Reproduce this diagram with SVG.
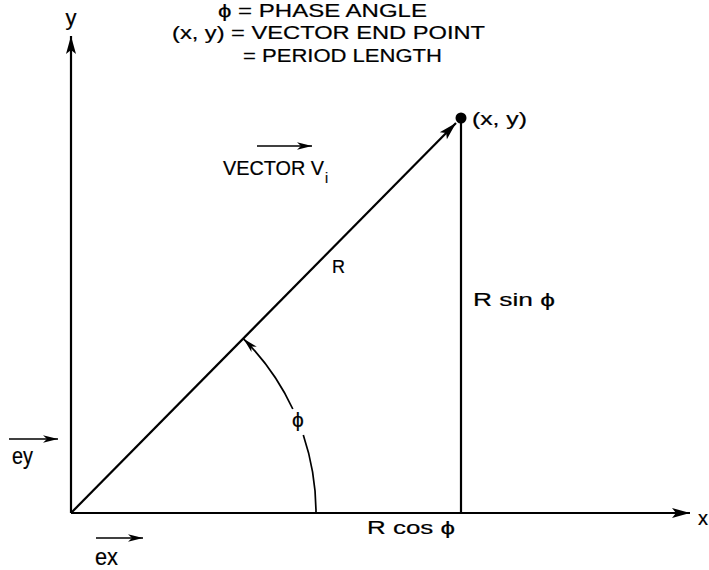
<svg xmlns="http://www.w3.org/2000/svg" width="709" height="570" viewBox="0 0 709 570">
<style>
.t{font-family:"Liberation Sans","DejaVu Sans",sans-serif;fill:#000;stroke:#000;stroke-width:0.2}
.ln{fill:none;stroke:#000;stroke-width:2.2;stroke-linecap:butt}
.thin{fill:none;stroke:#000;stroke-width:1.7}
</style>
<defs>
<marker id="big" markerUnits="userSpaceOnUse" viewBox="-20 -6 22 12" markerWidth="22" markerHeight="12" refX="0" refY="0" orient="auto" overflow="visible">
<path d="M0,0 L-18,-5 L-14,0 L-18,5 Z" fill="#000"/>
</marker>
<marker id="small" markerUnits="userSpaceOnUse" viewBox="-16 -5 18 10" markerWidth="18" markerHeight="10" refX="0" refY="0" orient="auto" overflow="visible">
<path d="M0,0 L-15,-3.8 L-11,0 L-15,3.8 Z" fill="#000"/>
</marker>
</defs>
<rect width="709" height="570" fill="#fff"/>
<g id="connectors">
<path id="y-axis" class="ln" d="M71,513 L71,36" marker-end="url(#big)"/>
<path id="x-axis" class="ln" d="M71,513 L690,513" marker-end="url(#big)"/>
<path id="vector" class="ln" d="M71,513 L456,123" marker-end="url(#big)"/>
<path id="rsin" class="ln" d="M461,118 L461,513"/>
<path id="arc-lower" class="thin" d="M316,513 A245,245 0 0 0 303.3,435"/>
<path id="arc-upper" class="thin" d="M292.8,409 A245,245 0 0 0 243.5,338.8" marker-end="url(#small)"/>
<path id="ey-arrow" class="thin" d="M9,439 L58,439" marker-end="url(#small)"/>
<path id="ex-arrow" class="thin" d="M96,538 L143,538" marker-end="url(#small)"/>
<path id="v-arrow" class="thin" d="M257,146 L312,146" marker-end="url(#small)"/>
</g>
<g id="legend">
<text class="t" x="218" y="17" font-size="18" textLength="209" lengthAdjust="spacingAndGlyphs">ϕ = PHASE ANGLE</text>
<text class="t" x="172" y="39" font-size="18" textLength="313" lengthAdjust="spacingAndGlyphs">(x, y) = VECTOR END POINT</text>
<text class="t" x="243" y="62" font-size="18" textLength="199" lengthAdjust="spacingAndGlyphs">= PERIOD LENGTH</text>
</g>
<g id="endpoint">
<circle cx="461" cy="118" r="5.5" fill="#000"/>
<text class="t" x="472" y="125" font-size="18" textLength="55" lengthAdjust="spacingAndGlyphs">(x, y)</text>
</g>
<g id="vector-label">
<text class="t" x="223" y="175" font-size="20" textLength="101" lengthAdjust="spacingAndGlyphs">VECTOR V</text>
<text class="t" x="325" y="183" font-size="14">i</text>
</g>
<g id="r-label"><text class="t" x="332" y="273" font-size="18">R</text></g>
<g id="rsin-label"><text class="t" x="473" y="306" font-size="19" textLength="82" lengthAdjust="spacingAndGlyphs">R sin ϕ</text></g>
<g id="rcos-label"><text class="t" x="367" y="534" font-size="19" textLength="88" lengthAdjust="spacingAndGlyphs">R cos ϕ</text></g>
<g id="phi-label"><text class="t" x="298" y="427" font-size="21" text-anchor="middle">ϕ</text></g>
<g id="y-label"><text class="t" x="71" y="25" font-size="22" text-anchor="middle">y</text></g>
<g id="x-label"><text class="t" x="698" y="525" font-size="20">x</text></g>
<g id="ey-label"><text class="t" x="12" y="464" font-size="24" textLength="21" lengthAdjust="spacingAndGlyphs">ey</text></g>
<g id="ex-label"><text class="t" x="95" y="565" font-size="24" textLength="23" lengthAdjust="spacingAndGlyphs">ex</text></g>
</svg>
